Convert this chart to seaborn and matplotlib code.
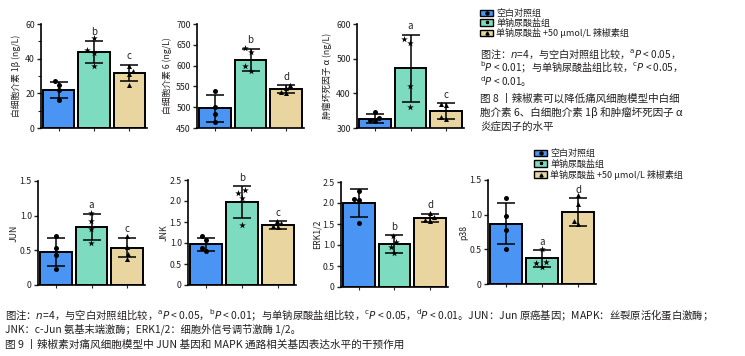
import numpy as np
import pandas as pd
import matplotlib
matplotlib.use("Agg")
import matplotlib.pyplot as plt
import seaborn as sns
from matplotlib.patches import Patch
from matplotlib.lines import Line2D
from matplotlib.ticker import MultipleLocator

sns.set_style("ticks")
plt.rcParams['font.family'] = ['Noto Sans CJK SC', 'DejaVu Sans']
plt.rcParams['mathtext.fontset'] = 'dejavusans'
plt.rcParams['axes.unicode_minus'] = False

# ---------------- data ----------------
groups = ["空白对照组", "单钠尿酸盐组", "单钠尿酸盐 +50 μmol/L 辣椒素组"]
colors = ["#4a94f4", "#7ddcbf", "#e8d59f"]
markers = ["o", "*", "^"]

il1b_mean = [22.1, 43.9, 31.8]
il1b_sd = [4.7, 6.5, 4.6]
il1b_pts = [[25.0, 27.0, 22.0, 16.3], [51.8, 45.0, 43.5, 35.7], [36.0, 32.8, 30.9, 25.0]]
il1b_sig = ["", "b", "c"]

il6_mean = [497, 614, 543]
il6_sd = [32, 27, 10]
il6_pts = [[540, 501, 484, 465], [642, 632, 600, 588], [553, 545, 536, 533]]
il6_sig = ["", "b", "d"]

tnf_mean = [327, 472, 349]
tnf_sd = [14, 97, 23]
tnf_pts = [[346, 322, 320, 330], [556, 546, 420, 360], [370, 367, 332, 327]]
tnf_sig = ["", "a", "c"]

jun_mean = [0.48, 0.84, 0.54]
jun_sd = [0.20, 0.19, 0.14]
jun_pts = [[0.70, 0.54, 0.43, 0.23], [1.04, 0.93, 0.81, 0.60], [0.70, 0.55, 0.45, 0.38]]
jun_sig = ["", "a", "c"]

jnk_mean = [0.97, 1.97, 1.43]
jnk_sd = [0.16, 0.38, 0.09]
jnk_pts = [[1.16, 1.08, 0.89, 0.81], [2.26, 2.20, 2.06, 1.44], [1.52, 1.47, 1.40, 1.38]]
jnk_sig = ["", "b", "c"]

erk_mean = [2.00, 1.02, 1.64]
erk_sd = [0.34, 0.21, 0.10]
erk_pts = [[2.28, 2.10, 2.08, 1.52], [1.22, 1.07, 0.95, 0.80], [1.76, 1.66, 1.60, 1.58]]
erk_sig = ["", "b", "d"]

p38_mean = [0.87, 0.37, 1.04]
p38_sd = [0.30, 0.12, 0.20]
p38_pts = [[1.24, 0.98, 0.78, 0.50], [0.50, 0.32, 0.30, 0.24], [1.28, 1.15, 0.91, 0.86]]
p38_sig = ["", "a", "d"]

# ---------------- figure ----------------
W, H = 745, 356
fig = plt.figure(figsize=(W / 100, H / 100), dpi=100)
TXT = "#231f20"


def px_axes(l, r, t, b):
    return fig.add_axes([l / W, 1 - b / H, (r - l) / W, (b - t) / H])


def panel(ax, means, sds, pts, sig, ylabel, ylim, step, minor=None, labelpad=3):
    sns.barplot(x=groups, y=means, hue=groups, order=groups, hue_order=groups,
                palette=colors, legend=False, ax=ax, width=0.88,
                edgecolor="black", linewidth=1.4, saturation=1)
    for i, g in enumerate(groups):
        sz = 5.0 if markers[i] == "*" else 3.6
        sns.swarmplot(x=[g] * len(pts[i]), y=pts[i], order=groups, color="black",
                      marker=markers[i], size=sz, ax=ax, zorder=5)
    ax.errorbar(range(3), means, yerr=sds, fmt="none", ecolor="black",
                elinewidth=1.1, capsize=6.5, capthick=1.1, zorder=4)
    for i, s in enumerate(sig):
        if s:
            ax.annotate(s, xy=(i, means[i] + sds[i]), xytext=(0, 2.5),
                        textcoords="offset points", ha="center", va="bottom",
                        fontsize=7, color=TXT)
    ax.set_xlim(-0.5, 2.5)
    ax.set_ylim(*ylim)
    ax.yaxis.set_major_locator(MultipleLocator(step))
    if minor:
        ax.yaxis.set_minor_locator(MultipleLocator(minor))
    ax.set_xticks([0, 1, 2])
    ax.set_xticklabels([])
    ax.set_xlabel("")
    ax.set_ylabel(ylabel, fontsize=6.3, color=TXT, labelpad=labelpad)
    if step < 1:
        ax.yaxis.set_major_formatter(lambda v, p: "0" if v == 0 else f"{v:.1f}")
    ax.tick_params(axis="y", labelsize=6.3, length=3, width=1, pad=1.5, colors=TXT)
    ax.tick_params(axis="y", which="minor", length=2, width=0.8)
    ax.tick_params(axis="x", length=2.5, width=0.8)
    for sp in ["top", "right"]:
        ax.spines[sp].set_visible(False)
    for sp in ["left", "bottom"]:
        ax.spines[sp].set_linewidth(1.2)
        ax.spines[sp].set_color("black")
    ax.set_facecolor("none")


panel(px_axes(41, 147, 24, 128), il1b_mean, il1b_sd, il1b_pts, il1b_sig,
      "白细胞介素 1β (ng/L)", (0, 60), 20, minor=10)
panel(px_axes(197, 304, 24, 128), il6_mean, il6_sd, il6_pts, il6_sig,
      "白细胞介素 6 (ng/L)", (450, 700), 50)
panel(px_axes(357, 464, 24, 128), tnf_mean, tnf_sd, tnf_pts, tnf_sig,
      "肿瘤坏死因子 α (ng/L)", (300, 600), 100)

panel(px_axes(38, 145, 181, 285), jun_mean, jun_sd, jun_pts, jun_sig,
      "JUN", (0, 1.5), 0.5, labelpad=1)
panel(px_axes(188, 296, 180, 285), jnk_mean, jnk_sd, jnk_pts, jnk_sig,
      "JNK", (0, 2.5), 0.5, labelpad=1)
panel(px_axes(341, 448, 182, 287), erk_mean, erk_sd, erk_pts, erk_sig,
      "ERK1/2", (0, 2.5), 0.5, labelpad=1)
panel(px_axes(488, 596, 180, 284), p38_mean, p38_sd, p38_pts, p38_sig,
      "p38", (0, 1.5), 0.5, labelpad=1)

# ---------------- legends ----------------
handles = [(Patch(facecolor=c, edgecolor="black", linewidth=1.0),
            Line2D([], [], marker=m, color="black", linestyle="none", markersize=2.2))
           for c, m in zip(colors, markers)]

fig.legend(handles, groups, loc="upper left", bbox_to_anchor=(480 / W, 1 - 9 / H),
           frameon=False, fontsize=6.5, handlelength=1.45, handleheight=0.75,
           handletextpad=0.35, labelspacing=0.05, borderpad=0, borderaxespad=0,
           labelcolor=TXT)
fig.legend(handles, groups, loc="upper left", bbox_to_anchor=(534 / W, 1 - 149 / H),
           frameon=False, fontsize=6.5, handlelength=1.45, handleheight=0.75,
           handletextpad=0.35, labelspacing=0.15, borderpad=0, borderaxespad=0,
           labelcolor=TXT)

# ---------------- captions ----------------
def ftxt(x, y, s, size=7.4, weight="normal"):
    fig.text(x / W, 1 - y / H, s, fontsize=size, color=TXT, ha="left", va="center",
             fontweight=weight)


SA, SB, SC, SD = (r"$^{\mathrm{%s}}P$" % c for c in "abcd")

ftxt(480, 53.5, "图注：$n$=4，与空白对照组比较，" + SA + " < 0.05，", size=7.3)
ftxt(480, 67.5, SB + " < 0.01；与单钠尿酸盐组比较，" + SC + " < 0.05，", size=7.3)
ftxt(480, 82, SD + " < 0.01。", size=7.3)
ftxt(480, 98, "图 8 丨辣椒素可以降低痛风细胞模型中白细", size=7.6)
ftxt(480, 112, "胞介素 6、白细胞介素 1β 和肿瘤坏死因子 α", size=7.6)
ftxt(480, 127, "炎症因子的水平", size=7.6)

ftxt(5, 315.5, "图注：$n$=4，与空白对照组比较，" + SA + " < 0.05，" + SB + " < 0.01；"
               "与单钠尿酸盐组比较，" + SC + " < 0.05，" + SD + " < 0.01。"
               "JUN：Jun 原癌基因；MAPK：丝裂原活化蛋白激酶；", size=7.45)
ftxt(5, 329.5, "JNK：c-Jun 氨基末端激酶；ERK1/2：细胞外信号调节激酶 1/2。", size=7.4)
ftxt(5, 344.5, "图 9 丨辣椒素对痛风细胞模型中 JUN 基因和 MAPK 通路相关基因表达水平的干预作用", size=7.65)

fig.savefig("out.png", dpi=100)
